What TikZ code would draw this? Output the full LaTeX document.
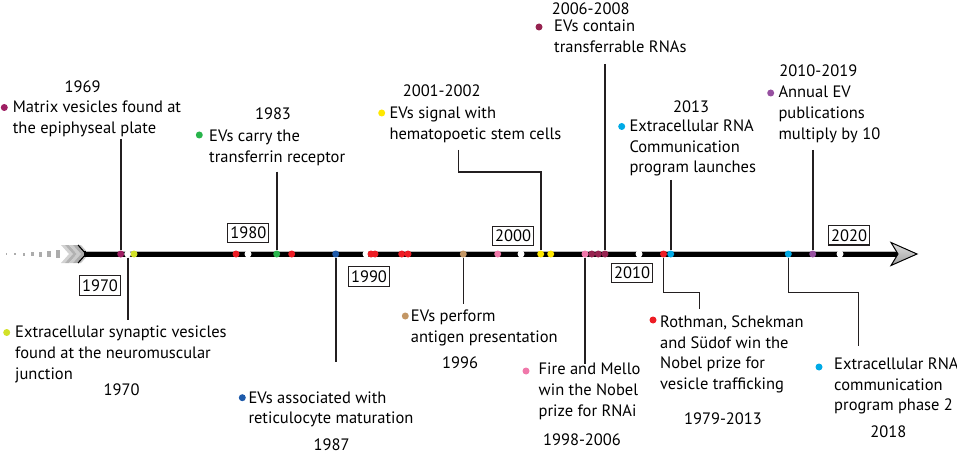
\documentclass[tikz,border=0pt]{standalone}
\usepackage{fontspec}
\setmainfont{PT Sans}
\definecolor{mvcol}{RGB}{158,31,99}
\definecolor{ygcol}{RGB}{210,225,40}
\definecolor{grcol}{RGB}{40,180,75}
\definecolor{rdcol}{RGB}{237,28,36}
\definecolor{blcol}{RGB}{30,90,170}
\definecolor{tncol}{RGB}{195,150,100}
\definecolor{pkcol}{RGB}{240,120,170}
\definecolor{ywcol}{RGB}{255,232,0}
\definecolor{mrcol}{RGB}{150,35,80}
\definecolor{cycol}{RGB}{0,170,230}
\definecolor{ppcol}{RGB}{150,80,160}
\definecolor{linecol}{RGB}{35,31,32}
\begin{document}
\begin{tikzpicture}[x=1pt,y=-1pt,
  every node/.style={font=\fontsize{16.5}{20.7}\selectfont, inner sep=0pt},
  evt/.style={align=left, anchor=north west},
  dot/.style={circle, fill=#1, minimum size=7pt},
  decadedot/.style={circle, fill=white, minimum size=7pt},
  decade/.style={draw=linecol, line width=1.3pt, minimum width=41pt, minimum height=19.5pt},
  lead/.style={draw=linecol, line width=1.6pt}]
\useasboundingbox (0,0) rectangle (957,454);
% 箭尾
\foreach \x/\w/\h in {6.7/1.2/1.2, 15/2/2, 24/2.6/3, 32.7/3/4, 40.7/3.4/5, 49.3/3.8/6, 58.3/4/8}
  \fill[gray!65] (\x-\w/2,254-\h/2) rectangle (\x+\w/2,254+\h/2);
\foreach \x/\c in {61/gray!35, 65/gray!60, 69/gray!40, 73/gray!65, 77/gray!45}
  \fill[\c] (\x,245) -- ++(4,0) -- ++(8,9) -- ++(-8,9) -- ++(-4,0) -- ++(8,-9) -- cycle;
\draw[black, line width=1.2pt] (78,245) -- (86,254) -- (78,263);
% 时间轴
\draw[black, line width=6.7pt] (84,254) -- (898,254);
\draw[gray!55, line width=0.7pt] (86,251.2) -- (896,251.2);
\shade[top color=gray!25, bottom color=gray!75, draw=black, line width=1pt]
  (891,242.5) -- (917,254) -- (891,265.5) -- (898,254) -- cycle;
% 轴上的点
\node[dot=mvcol] (b1969) at (120.7,254) {};
\node[decadedot] (b1970) at (127.7,254) {};
\node[dot=ygcol] (b1970s) at (134,254) {};
\node[dot=rdcol] (r1) at (236,254) {};
\node[decadedot] (b1980) at (248,254) {};
\node[dot=grcol] (b1983) at (276.7,254) {};
\node[dot=rdcol] (r2) at (291.7,254) {};
\node[dot=blcol] (b1987) at (335.7,254) {};
\node[decadedot] (b1990) at (366,254) {};
\node[dot=rdcol] (r3) at (371,254) {};
\node[dot=rdcol] (r4) at (375,254) {};
\node[dot=rdcol] (r5) at (401.7,254) {};
\node[dot=rdcol] (r6) at (408,254) {};
\node[dot=tncol] (b1996) at (463.3,254) {};
\node[dot=pkcol] (p1) at (497.7,254) {};
\node[decadedot] (b2000) at (521,254) {};
\node[dot=ywcol] (b2001) at (540.7,254) {};
\node[dot=ywcol] (b2002) at (550.7,254) {};
\node[dot=pkcol] (b1998) at (585,254) {};
\node[dot=mrcol] (m1) at (591.7,254) {};
\node[dot=mrcol] (m2) at (598.3,254) {};
\node[dot=mrcol] (b2006) at (605,254) {};
\node[decadedot] (b2010) at (639,254) {};
\node[dot=rdcol] (b1979) at (663.5,254) {};
\node[dot=cycol] (b2013) at (670.7,254) {};
\node[dot=cycol] (b2018) at (788.3,254) {};
\node[dot=ppcol] (b2019) at (812.7,254) {};
\node[decadedot] (b2020) at (840,254) {};
% 连线
\coordinate (c1969) at (120.7,139);
\coordinate (c1970) at (127.7,320);
\coordinate (c1983) at (276.7,171.7);
\coordinate (c1987) at (335.7,361.7);
\coordinate (c1996) at (463.3,304);
\coordinate (c2001) at (458.3,150);
\coordinate (c2006) at (605,64);
\coordinate (c1998) at (585,364);
\coordinate (c2013) at (670.7,180);
\coordinate (c1979) at (699.3,309);
\coordinate (c2019) at (812.7,150);
\coordinate (c2018) at (858.3,346);
\draw[lead] (c1969) -- (b1969);
\draw[lead] (b1970) -- (c1970);
\draw[lead] (c1983) -- (b1983);
\draw[lead] (b1987) -- (c1987);
\draw[lead] (b1996) -- (c1996);
\draw[lead] (c2001) -- ++(0,22.3) -| (b2001);
\draw[lead] (c2006) -- (b2006);
\draw[lead] (b1998) -- (c1998);
\draw[lead] (c2013) -- (b2013);
\draw[lead] (b1979) -- ++(0,38.3) -| (c1979);
\draw[lead] (c2019) -- (b2019);
\draw[lead] (b2018) -- ++(0,38.3) -| (c2018);
% 上方事件
\node (y1969) at (82.7,86.5) {1969};
\node[dot=mvcol] (k1969) at (4.3,107.5) {};
\node[evt] (t1969) at (12.7,100.5) {Matrix vesicles found at\\the epiphyseal plate};
\node (y1983) at (273,113.5) {1983};
\node[dot=grcol] (k1983) at (199.3,135) {};
\node[evt] (t1983) at (209,130) {EVs carry the\\transferrin receptor};
\node (y2001) at (441.7,90.5) {2001-2002};
\node[dot=ywcol] (k2001) at (381.7,113) {};
\node[evt] (t2001) at (389.3,106.5) {EVs signal with\\hematopoetic stem cells};
\node (y2006) at (590.7,8.5) {2006-2008};
\node[dot=mrcol] (k2006) at (539,27) {};
\node[evt] (t2006) at (554,20) {EVs contain\\transferrable RNAs};
\node (y2013) at (691,106.3) {2013};
\node[dot=cycol] (k2013) at (621.7,126.5) {};
\node[evt] (t2013) at (629.3,119.5) {Extracellular RNA\\Communication\\program launches};
\node (y2019) at (818.3,70.7) {2010-2019};
\node[dot=ppcol] (k2019) at (770.7,93) {};
\node[evt] (t2019) at (778.3,86) {Annual EV\\publications\\multiply by 10};
% 下方事件
\node[dot=ygcol] (k1970) at (6.7,332.5) {};
\node[evt] (t1970) at (15,326) {Extracellular synaptic vesicles\\found at the neuromuscular\\junction};
\node (y1970) at (121.7,389.5) {1970};
\node[dot=blcol] (k1987) at (242.3,397.7) {};
\node[evt] (t1987) at (248.3,391.3) {EVs associated with\\reticulocyte maturation};
\node (y1987) at (331.7,444.5) {1987};
\node[dot=tncol] (k1996) at (405.3,316) {};
\node[evt] (t1996) at (410.7,309.5) {EVs perform\\antigen presentation};
\node (y1996) at (460,363) {1996};
\node[dot=pkcol] (k1998) at (526,371) {};
\node[evt] (t1998) at (538.5,363) {Fire and Mello\\win the Nobel\\prize for RNAi};
\node (y1998) at (582,440) {1998-2006};
\node[dot=rdcol] (k1979) at (653,320) {};
\node[evt] (t1979) at (660,315.5) {Rothman, Schekman\\and Südof win the\\Nobel prize for\\vesicle trafficking};
\node (y1979) at (723,419) {1979-2013};
\node[dot=cycol] (k2018) at (819,367) {};
\node[evt] (t2018) at (834,357.5) {Extracellular RNA\\communication\\program phase 2};
\node (y2018) at (888.4,432) {2018};
% 年代框
\node[decade] (x1970) at (100,285.5) {1970};
\node[decade] (x1980) at (248.3,233) {1980};
\node[decade] (x1990) at (369,276.5) {1990};
\node[decade] (x2000) at (513,236) {2000};
\node[decade] (x2010) at (632,273) {2010};
\node[decade] (x2020) at (849,235.3) {2020};
\end{tikzpicture}
\end{document}
